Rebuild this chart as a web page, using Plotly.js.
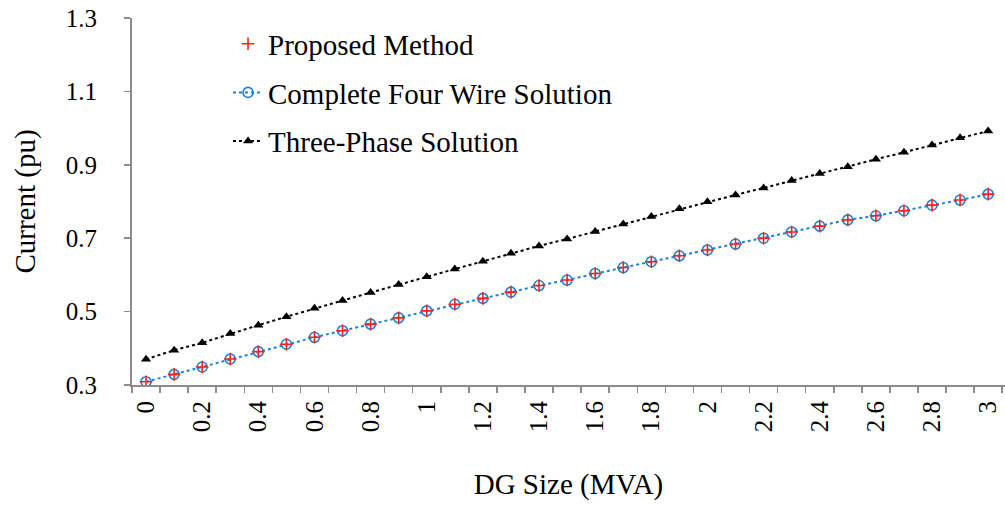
<!DOCTYPE html>
<html>
<head>
<meta charset="utf-8">
<script src="https://cdn.plot.ly/plotly-3.0.1.min.js"></script>
<style>html,body{margin:0;padding:0;background:#fff;}#chart{width:1005px;height:505px;}</style>
</head>
<body>
<div id="chart"></div>
<script>
// DG size (MVA)
const dgSize = [0,0.1,0.2,0.3,0.4,0.5,0.6,0.7,0.8,0.9,1.0,1.1,1.2,1.3,1.4,1.5,1.6,1.7,1.8,1.9,2.0,2.1,2.2,2.3,2.4,2.5,2.6,2.7,2.8,2.9,3.0];
// Complete four wire solution (pu)
const fourWire = [0.309,0.329,0.349,0.371,0.391,0.411,0.430,0.448,0.466,0.483,0.502,0.520,0.536,0.553,0.571,0.586,0.604,0.620,0.636,0.652,0.668,0.684,0.700,0.717,0.733,0.750,0.761,0.775,0.790,0.804,0.820];
// Proposed method (pu)
const proposed = [0.309,0.329,0.349,0.371,0.391,0.411,0.430,0.448,0.466,0.483,0.502,0.520,0.536,0.553,0.571,0.586,0.604,0.620,0.636,0.652,0.668,0.684,0.700,0.717,0.733,0.750,0.761,0.775,0.790,0.804,0.820];
// Three-phase solution (pu)
const threePhase = [0.370,0.395,0.415,0.440,0.463,0.486,0.509,0.530,0.552,0.574,0.595,0.616,0.637,0.659,0.679,0.698,0.718,0.739,0.759,0.780,0.799,0.818,0.837,0.857,0.876,0.895,0.915,0.934,0.954,0.974,0.992];
// tick labels
const xTickVals = [0,0.2,0.4,0.6,0.8,1,1.2,1.4,1.6,1.8,2,2.2,2.4,2.6,2.8,3];
const xTickText = ["0","0.2","0.4","0.6","0.8","1","1.2","1.4","1.6","1.8","2","2.2","2.4","2.6","2.8","3"];
const yTickVals = [0.3,0.5,0.7,0.9,1.1,1.3];
const yTickText = ["0.3","0.5","0.7","0.9","1.1","1.3"];

const FONT = 'Liberation Serif';
const AXC = '#8c8c8c';

const traces = [
  {
    x: dgSize, y: threePhase, name: 'Three-Phase Solution', type: 'scatter', mode: 'lines+markers',
    line: {color: '#000000', width: 2, dash: 'dot'},
    marker: {symbol: 'triangle-up', size: 9, color: '#000000'},
    legendgroup: 'c', legendrank: 3
  },
  {
    x: dgSize, y: fourWire, name: 'Complete Four Wire Solution', type: 'scatter', mode: 'lines+markers',
    line: {color: '#1f82cf', width: 2, dash: 'dot'},
    marker: {symbol: 'circle-open', size: 10, color: '#1f82cf', line: {width: 1.6, color: '#1f82cf'}},
    legendgroup: 'b', legendrank: 2
  },
  {
    x: dgSize, y: proposed, name: 'Proposed Method', type: 'scatter', mode: 'markers',
    marker: {symbol: 'cross-thin', size: 9, color: '#ff2020', line: {width: 1.6, color: '#ff2020'}},
    legendgroup: 'a', legendrank: 1
  }
];

const layout = {
  width: 1005, height: 505,
  margin: {l: 132, r: 0, t: 18, b: 120},
  paper_bgcolor: '#ffffff', plot_bgcolor: '#ffffff',
  font: {family: FONT, size: 25, color: '#000000'},
  showlegend: true,
  legend: {
    xref: 'paper', yref: 'paper',
    x: 0.110, y: 0.999, xanchor: 'left', yanchor: 'top',
    font: {family: FONT, size: 29, color: '#000'},
    bgcolor: 'rgba(0,0,0,0)', traceorder: 'grouped', tracegroupgap: 8
  },
  xaxis: {
    type: 'linear', range: [-0.05, 3.06], automargin: false,
    tickmode: 'array', tickvals: xTickVals, ticktext: xTickText,
    tickangle: -90, ticks: '', ticklabelstandoff: 4, ticklabeloverflow: 'allow',
    tickfont: {family: FONT, size: 25, color: '#000'},
    showgrid: false, zeroline: false,
    showline: true, linecolor: AXC, linewidth: 2,
    minor: {ticks: 'outside', tickmode: 'linear', tick0: -0.05, dtick: 0.1, ticklen: 6, tickwidth: 1.5, tickcolor: AXC, showgrid: false},
    title: {text: 'DG Size (MVA)', font: {family: FONT, size: 29, color: '#000'}, standoff: 42}
  },
  yaxis: {
    range: [0.3, 1.3], automargin: false,
    tickmode: 'array', tickvals: yTickVals, ticktext: yTickText,
    ticks: 'outside', ticklen: 6, tickwidth: 1.5, tickcolor: AXC,
    ticklabelstandoff: 22,
    tickfont: {family: FONT, size: 25, color: '#000'},
    showgrid: false, zeroline: false,
    showline: true, linecolor: AXC, linewidth: 2,
    title: {text: 'Current (pu)', font: {family: FONT, size: 29, color: '#000'}, standoff: 22}
  }
};

Plotly.newPlot('chart', traces, layout, {displayModeBar: false, staticPlot: true});
</script>
</body>
</html>
